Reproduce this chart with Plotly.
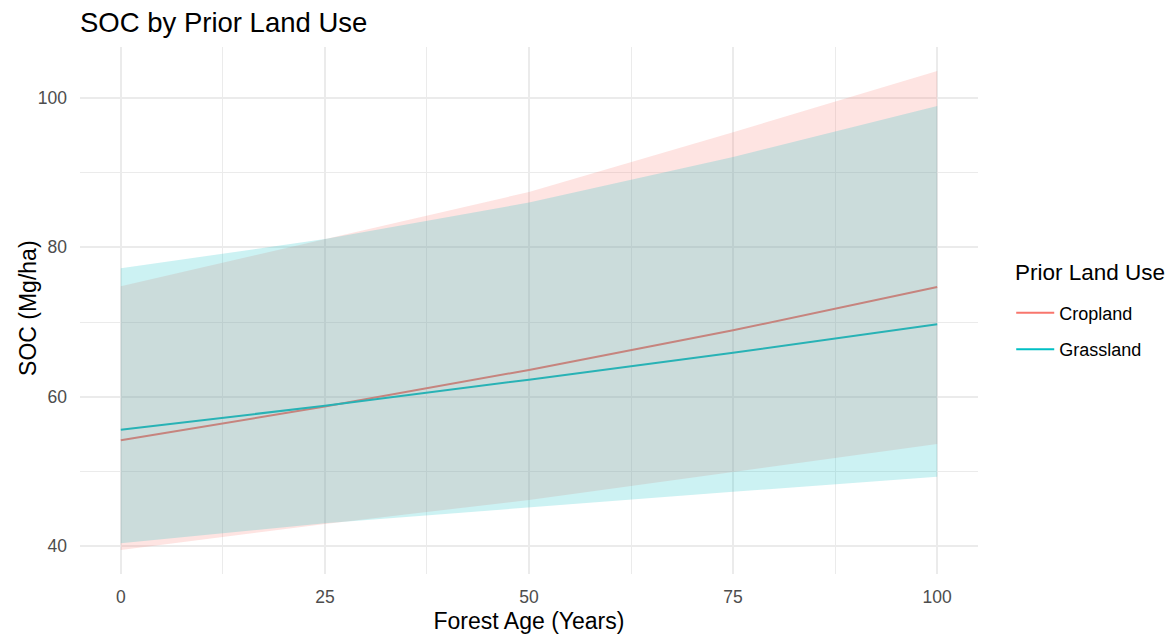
import plotly.graph_objects as go

# Forest age (years) at which predictions are reported
age = [0, 25, 50, 75, 100]

# Predicted SOC (Mg/ha) and interval bounds by prior land use
crop_mean = [54.2, 58.7, 63.6, 68.9, 74.7]
crop_lo = [39.5, 43.0, 46.2, 50.0, 53.7]
crop_hi = [74.8, 81.1, 87.4, 95.4, 103.6]

grass_mean = [55.6, 58.8, 62.3, 65.9, 69.7]
grass_lo = [40.4, 43.1, 45.2, 47.3, 49.3]
grass_hi = [77.2, 81.1, 86.0, 92.1, 98.9]

x_ticks = [0, 25, 50, 75, 100]
y_ticks = [40, 60, 80, 100]

FONT = "Liberation Sans, Arial, sans-serif"
CROP = "#F8766D"
GRASS = "#00BFC4"

fig = go.Figure()

# Mean lines first, ribbons are layered above them
fig.add_trace(go.Scatter(x=age, y=crop_mean, mode="lines", name="Cropland",
                         line=dict(color=CROP, width=2), legendgroup="c"))
fig.add_trace(go.Scatter(x=age, y=grass_mean, mode="lines", name="Grassland",
                         line=dict(color=GRASS, width=2), legendgroup="g"))

def ribbon(lo, hi, rgba):
    return go.Scatter(x=age + age[::-1], y=hi + lo[::-1], fill="toself",
                      fillcolor=rgba, line=dict(width=0), mode="lines",
                      showlegend=False, hoverinfo="skip")

fig.add_trace(ribbon(crop_lo, crop_hi, "rgba(248,118,109,0.2)"))
fig.add_trace(ribbon(grass_lo, grass_hi, "rgba(0,191,196,0.2)"))

grid = "#EBEBEB"
fig.update_layout(
    width=1174, height=638,
    margin=dict(l=80, r=196, t=47, b=64),
    paper_bgcolor="white", plot_bgcolor="white",
    font=dict(family=FONT, color="black"),
    title=dict(text="SOC by Prior Land Use", x=80 / 1174, xanchor="left",
               y=1 - 22 / 638, yanchor="middle", yref="container",
               font=dict(size=27.5, color="black")),
    xaxis=dict(range=[-5, 105], tickvals=x_ticks, showgrid=True,
               gridcolor=grid, gridwidth=1.8, zeroline=False, showline=False,
               ticks="", ticklabelstandoff=10, automargin=False,
               tickfont=dict(size=17.5, color="#4D4D4D"),
               minor=dict(tickvals=[12.5, 37.5, 62.5, 87.5], showgrid=True,
                          gridcolor=grid, gridwidth=1.2),
               title=dict(text="Forest Age (Years)", standoff=7,
                          font=dict(size=23))),
    yaxis=dict(range=[36.3, 106.8], tickvals=y_ticks, showgrid=True,
               gridcolor=grid, gridwidth=1.8, zeroline=False, showline=False,
               ticks="", ticklabelstandoff=12, automargin=False,
               tickfont=dict(size=17.5, color="#4D4D4D"),
               minor=dict(tickvals=[50, 70, 90], showgrid=True,
                          gridcolor=grid, gridwidth=1.2)),
    legend=dict(x=1.037, xanchor="left", y=0.461, yanchor="middle",
                font=dict(size=18), tracegroupgap=10, itemwidth=38,
                bgcolor="rgba(0,0,0,0)"),
    annotations=[
        dict(text="Prior Land Use", xref="paper", yref="paper",
             x=1.039, y=0.573, xanchor="left", yanchor="middle",
             showarrow=False, font=dict(size=22.5, color="black")),
        dict(text="SOC (Mg/ha)", xref="paper", yref="paper",
             x=-0.0579, y=0.503, xanchor="center", yanchor="middle",
             textangle=-90, showarrow=False,
             font=dict(size=23, color="black")),
    ],
    showlegend=True,
)

fig.write_html("out.html")
